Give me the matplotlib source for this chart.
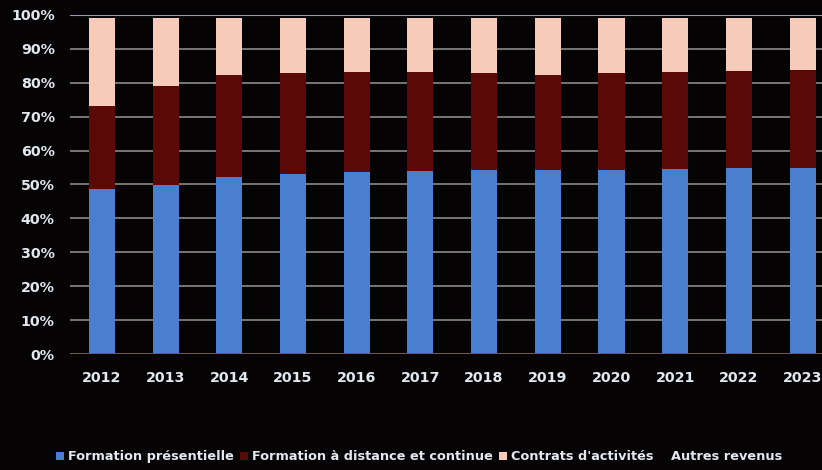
import matplotlib.pyplot as plt
import numpy as np
from matplotlib.ticker import PercentFormatter

years = ['2012', '2013', '2014', '2015', '2016', '2017', '2018', '2019', '2020', '2021', '2022', '2023']
presentielle = [48.7, 49.9, 52.2, 53.1, 53.7, 54.0, 54.3, 54.3, 54.4, 54.6, 54.9, 54.9]
distance = [24.5, 29.2, 30.1, 29.8, 29.5, 29.2, 28.6, 28.0, 28.5, 28.6, 28.5, 28.8]
contrats = [26.0, 20.1, 16.9, 16.3, 16.0, 16.0, 16.3, 16.9, 16.3, 16.0, 15.8, 15.5]
autres = [0.8, 0.8, 0.8, 0.8, 0.8, 0.8, 0.8, 0.8, 0.8, 0.8, 0.8, 0.8]

series = [
    ('Formation présentielle', presentielle, '#4a7ecf'),
    ('Formation à distance et continue', distance, '#5a0808'),
    ("Contrats d'activités", contrats, '#f6cbb9'),
    ('Autres revenus', autres, '#050303'),
]

bg = '#050303'
txt = '#e2e8f0'

fig = plt.figure(figsize=(8.22, 4.70), dpi=100, facecolor=bg)
ax = fig.add_axes([0.0852, 0.2468, 0.93, 0.7213], facecolor=bg)

x = np.arange(len(years))
bottom = np.zeros(len(years))
for name, vals, col in series:
    ax.bar(x, vals, 0.41, bottom=bottom, color=col, label=name, zorder=3)
    bottom += np.array(vals)

ax.set_ylim(0, 100)
ax.set_xlim(-0.5, len(years) - 0.5)
ax.set_yticks(np.arange(0, 101, 10))
ax.yaxis.set_major_formatter(PercentFormatter(decimals=0))
ax.set_xticks(x)
ax.set_xticklabels(years)
ax.grid(axis='y', color='#7e7e7e', linewidth=1.3, zorder=0)
for s in ax.spines.values():
    s.set_visible(False)
ax.axhline(0, color='#6a5a50', linewidth=1.3, zorder=4)
ax.axhline(100, color='#9a9ab8', linewidth=1.5, zorder=4)
ax.tick_params(length=0, colors=txt, labelsize=10.3)
ax.tick_params(axis='y', pad=11)
ax.tick_params(axis='x', pad=12)
for lab in ax.get_xticklabels() + ax.get_yticklabels():
    lab.set_fontweight('bold')

leg = fig.legend(loc='center left', bbox_to_anchor=(0.062, 0.028), ncol=4, frameon=False,
                 handlelength=0.6, handleheight=0.6, handletextpad=0.3, columnspacing=0.5,
                 borderaxespad=0, prop={'weight': 'bold', 'size': 9.3})
for t in leg.get_texts():
    t.set_color(txt)

fig.savefig('out.png', dpi=100, facecolor=bg)
